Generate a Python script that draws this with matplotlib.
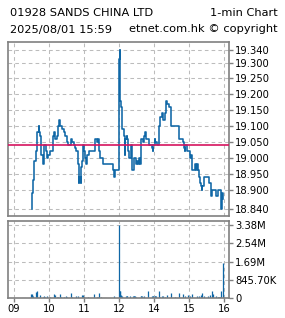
import matplotlib
matplotlib.use('Agg')
import matplotlib.pyplot as plt
import numpy as np

# 1-min price points (time, last price)
price_times = ['09:30', '09:31', '09:33', '09:34', '09:35', '09:37', '09:38', '09:40', '09:42', '09:43',
               '09:45', '09:47', '09:49', '09:50', '09:52', '09:55', '09:57', '09:59', '10:01', '10:07',
               '10:09', '10:11', '10:13', '10:15', '10:17', '10:19', '10:23', '10:26', '10:28', '10:30',
               '10:32', '10:37', '10:38', '10:40', '10:43', '10:45', '10:47', '10:49', '10:51', '10:52',
               '10:54', '10:55', '10:57', '10:58', '11:00', '11:02', '11:03', '11:05', '11:06', '11:08',
               '11:19', '11:22', '11:24', '11:25', '11:27', '11:32', '11:33', '11:50', '11:52', '11:54',
               '13:00', '13:01', '13:02', '13:03', '13:05', '13:06', '13:08', '13:10', '13:11', '13:13',
               '13:14', '13:15', '13:17', '13:18', '13:20', '13:22', '13:23', '13:25', '13:26', '13:29',
               '13:31', '13:33', '13:34', '13:36', '13:38', '13:41', '13:43', '13:45', '13:46', '13:51',
               '13:56', '13:58', '13:59', '14:01', '14:02', '14:05', '14:09', '14:11', '14:13', '14:15',
               '14:19', '14:21', '14:22', '14:25', '14:29', '14:43', '14:49', '14:51', '14:53', '14:54',
               '14:57', '14:59', '15:01', '15:02', '15:03', '15:05', '15:06', '15:10', '15:12', '15:13',
               '15:15', '15:17', '15:18', '15:19', '15:21', '15:22', '15:23', '15:25', '15:35', '15:37',
               '15:38', '15:39', '15:47', '15:49', '15:55', '15:56', '15:59']
prices = [18.84, 18.89, 18.93, 18.95, 18.99, 19.00, 19.02, 19.08, 19.10, 19.08,
          19.07, 19.01, 19.01, 18.98, 19.04, 19.02, 19.00, 19.01, 19.02, 19.07,
          19.08, 19.06, 19.07, 19.10, 19.12, 19.10, 19.09, 19.08, 19.07, 19.05,
          19.04, 19.06, 19.06, 19.05, 19.04, 19.03, 19.02, 18.98, 18.92, 18.94,
          18.92, 18.97, 18.99, 19.04, 19.02, 19.00, 18.98, 19.00, 19.01, 19.02,
          19.06, 19.05, 19.06, 19.02, 19.00, 18.99, 18.98, 18.96, 18.94, 18.96,
          19.31, 19.34, 19.18, 19.16, 19.12, 19.09, 19.07, 19.01, 19.06, 19.07,
          19.06, 19.02, 19.01, 19.00, 19.04, 19.00, 18.96, 18.98, 19.00, 18.98,
          18.99, 18.98, 19.00, 18.98, 19.06, 19.05, 19.07, 19.08, 19.06, 19.04,
          19.03, 19.02, 19.04, 19.06, 19.05, 19.04, 19.10, 19.13, 19.14, 19.12,
          19.14, 19.18, 19.17, 19.16, 19.10, 19.06, 19.05, 19.03, 19.02, 19.04,
          19.02, 19.02, 19.01, 19.00, 19.01, 18.99, 18.96, 18.98, 18.96, 18.98,
          18.96, 18.94, 18.94, 18.92, 18.91, 18.90, 18.91, 18.94, 18.92, 18.90,
          18.88, 18.90, 18.88, 18.90, 18.84, 18.89, 18.87]
prev_close = 19.04

# volume per minute (shares, thousands)
vol_times = ['09:29', '09:30', '09:31', '09:33', '09:37', '09:40', '09:45', '09:49', '09:51', '09:53',
             '09:57', '10:02', '10:09', '10:10', '10:13', '10:15', '10:19', '10:21', '10:25', '10:29',
             '10:31', '10:38', '10:40', '10:47', '10:49', '10:56', '10:58', '11:00', '11:07', '11:17',
             '11:22', '11:24', '11:26', '11:29', '11:51', '13:00', '13:01', '13:02', '13:03', '13:05',
             '13:06', '13:12', '13:13', '13:14', '13:19', '13:24', '13:25', '13:26', '13:27', '13:30',
             '13:37', '13:38', '13:39', '13:41', '13:43', '13:50', '13:57', '13:58', '13:59', '14:01',
             '14:02', '14:03', '14:09', '14:10', '14:13', '14:16', '14:19', '14:22', '14:29', '14:36',
             '14:43', '14:50', '14:53', '14:59', '15:02', '15:05', '15:14', '15:18', '15:20', '15:22',
             '15:26', '15:32', '15:36', '15:39', '15:42', '15:47', '15:49', '15:50', '15:51', '15:52',
             '15:53', '15:54', '15:55', '15:59']
volumes = [200, 200, 124, 78, 280, 310, 124, 47, 78, 47,
           78, 47, 170, 124, 47, 47, 170, 47, 47, 93,
           47, 217, 47, 78, 78, 124, 124, 62, 47, 170,
           47, 47, 217, 47, 78, 3382.8, 310, 310, 124, 78,
           47, 78, 78, 78, 78, 78, 78, 78, 78, 47,
           78, 78, 78, 47, 78, 310, 78, 78, 78, 78,
           78, 78, 310, 47, 78, 78, 47, 124, 217, 47,
           217, 170, 78, 124, 78, 170, 78, 78, 124, 217,
           78, 78, 124, 310, 170, 78, 47, 47, 47, 47,
           47, 47, 340, 1600]

hour_labels = ['09', '10', '11', '12', '14', '15', '16']
hour_times = ['09:00', '10:00', '11:00', '12:00', '14:00', '15:00', '16:00']


def to_idx(s):
    # minutes since 09:00 with the lunch break (12:00-13:00) removed
    h, m = map(int, s.split(':'))
    mins = h * 60 + m
    return mins - 540 if mins <= 720 else mins - 600


px = np.array([to_idx(s) for s in price_times])
py = np.array(prices)
vx = np.array([to_idx(s) for s in vol_times])
vy = np.array(volumes) * 1000
hx = [to_idx(s) for s in hour_times]

blue = '#0f67a6'
grid_kw = dict(color='#bcbcbc', linestyle=(0, (3.5, 3)), linewidth=0.75)
spine_c = '#808080'

fig = plt.figure(figsize=(2.85, 3.18), dpi=100)
ax = fig.add_axes([8 / 285, 1 - 216 / 318, 221 / 285, 174 / 318])
axv = fig.add_axes([8 / 285, 1 - 298 / 318, 221 / 285, 77 / 318])

xmin, xmax = -10.3, 368.6

# price panel
lo, hi = py.min(), py.max()
ax.step(px, py, where='post', color=blue, linewidth=1.15)
ax.axhline(prev_close, color='#d6145f', linewidth=1.2, zorder=3)
span = hi - lo
ax.set_ylim(lo - span * 0.047, hi + span * 0.05)
ax.set_xlim(xmin, xmax)
yt = [lo] + list(np.arange(18.90, 19.31, 0.05)) + [hi]
ax.set_yticks(yt)
ax.set_yticklabels(['%.3f' % v for v in yt])
ax.set_xticks(hx)
ax.set_xticklabels([])
ax.yaxis.tick_right()
ax.tick_params(axis='y', direction='out', length=3, width=1, color=spine_c, pad=1.5, labelsize=7.2)
ax.tick_params(axis='x', length=0)
ax.grid(True, **grid_kw)
ax.set_axisbelow(True)

# volume panel (1px bars)
vmax = vy.max()
axv.vlines(vx, 0, vy, colors=blue, linewidth=0.9)
axv.set_xlim(xmin, xmax)
axv.set_ylim(0, vmax * 1.055)
vt = [0, vmax / 4, vmax / 2, vmax * 3 / 4, vmax]
axv.set_yticks(vt)
axv.set_yticklabels(['0', '%.2fK' % (vmax / 4 / 1000), '%.2fM' % (vmax / 2 / 1e6),
                     '%.2fM' % (vmax * 3 / 4 / 1e6), '%.2fM' % (vmax / 1e6)])
axv.yaxis.tick_right()
axv.set_xticks(hx)
axv.set_xticklabels(hour_labels)
axv.tick_params(axis='y', direction='out', length=3, width=1, color=spine_c, pad=1.5, labelsize=7.2)
axv.tick_params(axis='x', direction='out', length=3, width=1, color=spine_c, pad=1.5, labelsize=7.2)
axv.grid(True, **grid_kw)
axv.set_axisbelow(True)

for a in (ax, axv):
    for s in a.spines.values():
        s.set_color(spine_c)
        s.set_linewidth(1.2)

fig.text(10 / 285, 1 - 12.5 / 318, '01928 SANDS CHINA LTD', fontsize=8.2, va='center', ha='left')
fig.text(278 / 285, 1 - 12.5 / 318, '1-min Chart', fontsize=8.2, va='center', ha='right')
fig.text(10 / 285, 1 - 29.5 / 318, '2025/08/01 15:59', fontsize=8.2, va='center', ha='left')
fig.text(278 / 285, 1 - 29.5 / 318, 'etnet.com.hk \u00a9 copyright', fontsize=8.2, va='center', ha='right')

fig.savefig('out.png', dpi=100, facecolor='white')
